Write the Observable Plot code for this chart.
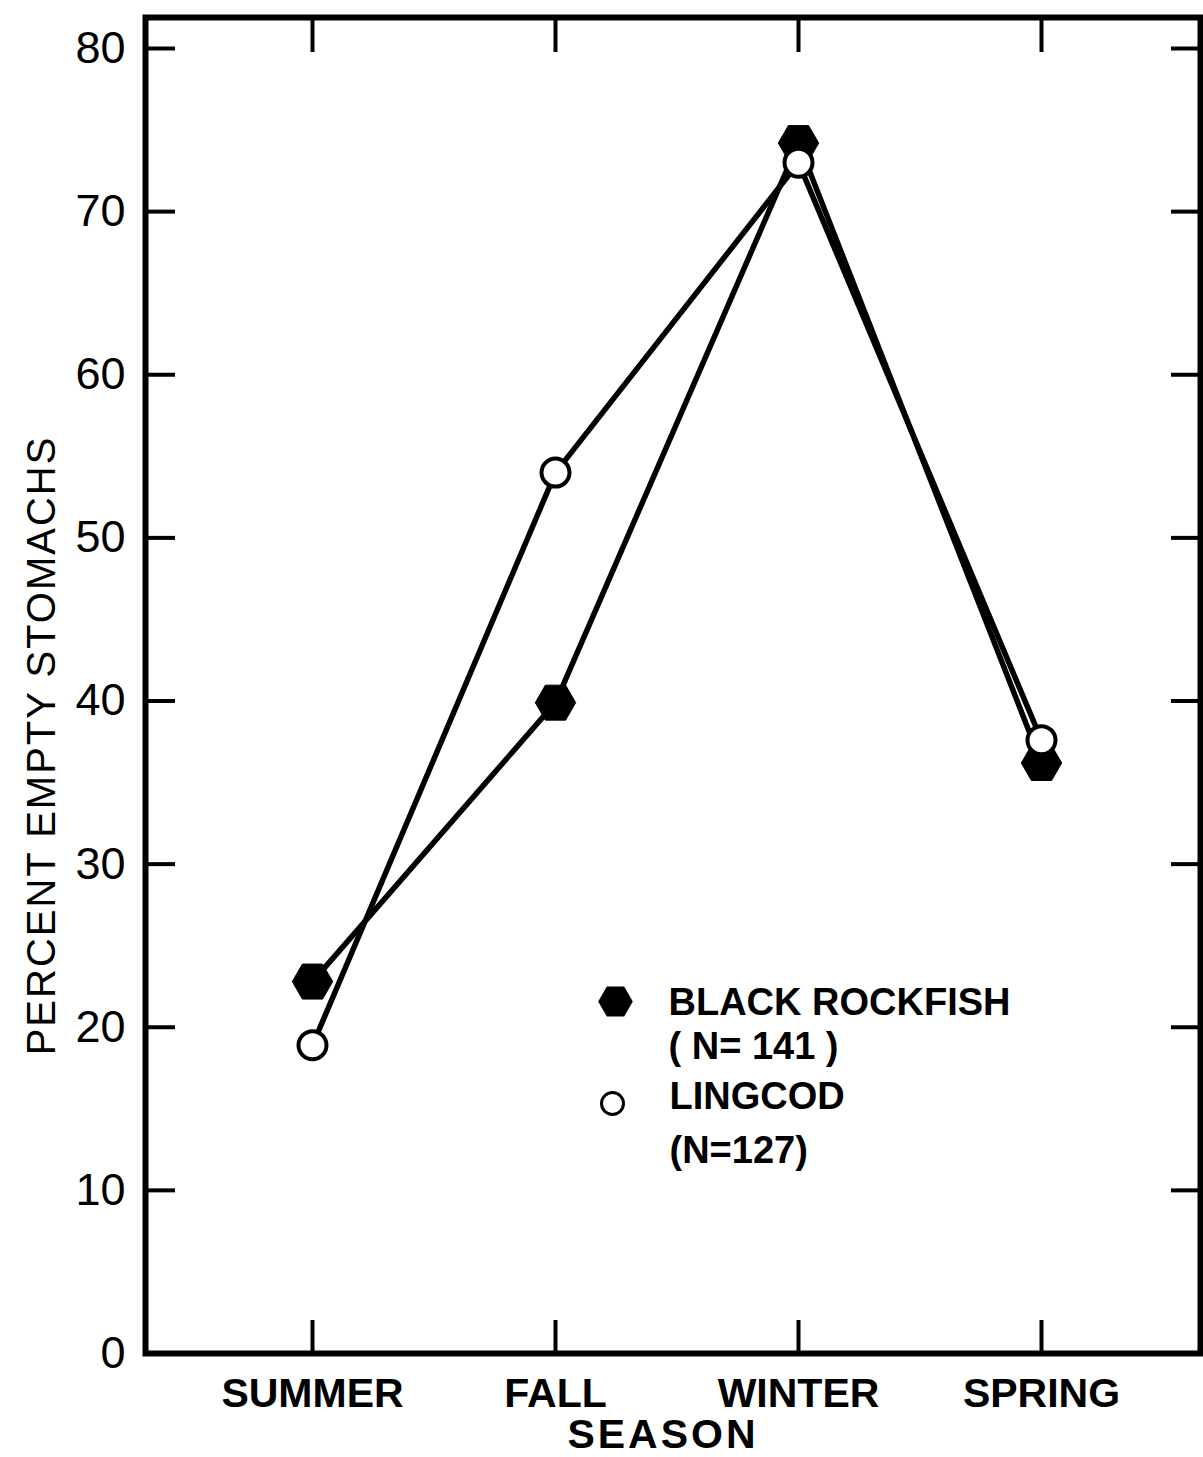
<!DOCTYPE html>
<html><head><meta charset="utf-8">
<script src="https://cdn.jsdelivr.net/npm/d3@7"></script>
<script src="https://cdn.jsdelivr.net/npm/@observablehq/plot@0.6"></script>
<style>body{margin:0;background:#fff}</style>
</head><body><div id="chart"></div>
<script>
const seasons = ["SUMMER", "FALL", "WINTER", "SPRING"];
const blackRockfish = [22.8, 39.9, 74.2, 36.2];
const lingcod = [18.9, 54.0, 73.0, 37.6];
const yTicks = [0, 10, 20, 30, 40, 50, 60, 70, 80];
const yTitle = "PERCENT EMPTY STOMACHS";
const xTitle = "SEASON";
const legendNames = ["BLACK ROCKFISH", "LINGCOD"];
const legendCounts = ["( N= 141 )", "(N=127)"];

const black = seasons.map((s, i) => ({season: s, value: blackRockfish[i]}));
const ling = seasons.map((s, i) => ({season: s, value: lingcod[i]}));

const font = "'Liberation Sans', Arial, sans-serif";

const chart = Plot.plot({
  width: 1203,
  height: 1457,
  marginLeft: 145,
  marginTop: 17,
  marginRight: 3,
  marginBottom: 104,
  x: {type: "point", domain: seasons, range: [311, 1041], padding: 0},
  y: {domain: [0, 81.9]},
  style: {fontFamily: font, background: "white", color: "black"},
  marks: [
    Plot.frame({stroke: "black", strokeWidth: 6}),
    Plot.axisX({anchor: "bottom", tickSize: 33, dy: -33, strokeWidth: 4, tickFormat: () => "", label: null}),
    Plot.axisX({anchor: "top", tickSize: 34, dy: 34, strokeWidth: 4, tickFormat: () => "", label: null}),
    Plot.axisX({anchor: "bottom", tickSize: 0, tickPadding: 24, fontSize: 41, fontWeight: "bold", label: null}),
    Plot.axisY({anchor: "left", ticks: yTicks, tickSize: 30, dx: 30, strokeWidth: 4, tickFormat: () => "", label: null}),
    Plot.axisY({anchor: "right", ticks: yTicks, tickSize: 30, dx: -30, strokeWidth: 4, tickFormat: () => "", label: null}),
    Plot.axisY({anchor: "left", ticks: yTicks, tickSize: 0, tickPadding: 20, fontSize: 45, label: null}),
    Plot.text([yTitle], {frameAnchor: "left", textAnchor: "middle", rotate: -90, dx: -103, dy: 60, fontSize: 40, lineAnchor: "middle"}),
    Plot.text([xTitle], {frameAnchor: "bottom", textAnchor: "middle", dx: -10, dy: 81, fontSize: 41, fontWeight: "bold", lineAnchor: "middle"}),
    Plot.line(black, {x: "season", y: "value", stroke: "black", strokeWidth: 5.5}),
    Plot.line(ling, {x: "season", y: "value", stroke: "black", strokeWidth: 5.5}),
    Plot.dot(black, {x: "season", y: "value", symbol: "hexagon", r: 17.5, rotate: 90, fill: "black", stroke: "black", strokeWidth: 1}),
    Plot.dot(ling, {x: "season", y: "value", r: 14, fill: "white", stroke: "black", strokeWidth: 4}),
    // legend
    Plot.dot([legendNames[0]], {frameAnchor: "top-left", dx: 470, dy: 984, symbol: "hexagon", r: 15, rotate: 90, fill: "black"}),
    Plot.dot([legendNames[1]], {frameAnchor: "top-left", dx: 467, dy: 1086, r: 11, fill: "white", stroke: "black", strokeWidth: 3}),
    Plot.text([legendNames[0] + "\n" + legendCounts[0]], {frameAnchor: "top-left", textAnchor: "start", lineAnchor: "top", dx: 523, dy: 966, fontSize: 38, fontWeight: "bold", lineHeight: 1.16}),
    Plot.text([legendNames[1] + "\n" + legendCounts[1]], {frameAnchor: "top-left", textAnchor: "start", lineAnchor: "top", dx: 524, dy: 1053, fontSize: 38, fontWeight: "bold", lineHeight: 1.42})
  ]
});

d3.select(chart).selectAll("text").filter(function() { return this.textContent === xTitle; }).attr("letter-spacing", 3);
d3.select(chart).selectAll("text").filter(function() { return this.textContent === yTitle; }).attr("letter-spacing", 2);
document.getElementById("chart").appendChild(chart);
</script>
</body></html>
